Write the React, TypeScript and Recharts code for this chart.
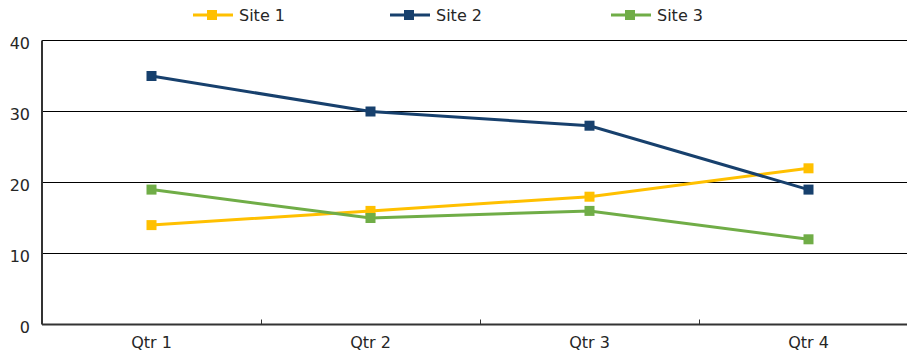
import React from "react";
import { LineChart, Line, XAxis, YAxis, CartesianGrid } from "recharts";

// Quarterly values per site.
const quarters = ["Qtr 1", "Qtr 2", "Qtr 3", "Qtr 4"];
const site1 = [14, 16, 18, 22];
const site2 = [35, 30, 28, 19];
const site3 = [19, 15, 16, 12];
const yTicks = [0, 10, 20, 30, 40];

const series = [
  { key: "site1", name: "Site 1", color: "#FFC000", values: site1 },
  { key: "site2", name: "Site 2", color: "#17406D", values: site2 },
  { key: "site3", name: "Site 3", color: "#70AD47", values: site3 },
];

// legend item left edges (line start), matching the reference layout
const legendLeft = [193, 390, 611];

// numeric x so labels sit at band centres and tick marks at band edges
const data = quarters.map((q, i) => ({
  x: i + 0.5,
  site1: site1[i],
  site2: site2[i],
  site3: site3[i],
}));
const xTicks = [0.5, 1, 1.5, 2, 2.5, 3, 3.5];

const FONT = "'DejaVu Sans', Verdana, sans-serif";
const TEXT = "#262626";

function XTick(props: any) {
  const { x, y, payload } = props;
  const v = payload.value as number;
  if (Number.isInteger(v)) {
    return <line x1={Math.round(x) + 0.5} x2={Math.round(x) + 0.5} y1={y} y2={y - 5} stroke="#333" strokeWidth={1} />;
  }
  return (
    <text x={x} y={y + 12} dy="0.71em" textAnchor="middle" fill={TEXT} fontSize={16} fontFamily={FONT}>
      {quarters[Math.floor(v)]}
    </text>
  );
}

function YTick(props: any) {
  const { x, y, payload } = props;
  return (
    <text x={x} y={y} dy={8} textAnchor="end" fill={TEXT} fontSize={16} fontFamily={FONT}>
      {payload.value}
    </text>
  );
}

function squareDot(color: string) {
  return (p: any) => (
    <rect key={`${p.dataKey}-${p.index}`} x={p.cx - 5} y={p.cy - 5} width={10} height={10} fill={color} />
  );
}

export default function App() {
  return (
    <div
      style={{
        position: "fixed",
        left: 0,
        top: 0,
        width: 907,
        height: 355,
        overflow: "hidden",
        background: "#fff",
      }}
    >
      {series.map((s, i) => (
        <div
          key={s.key}
          style={{
            position: "absolute",
            left: legendLeft[i],
            top: 4,
            height: 22,
            display: "flex",
            alignItems: "center",
            fontFamily: FONT,
            fontSize: 16,
            color: TEXT,
          }}
        >
          <svg width={40} height={12} style={{ marginRight: 6 }}>
            <line x1={0} x2={40} y1={6} y2={6} stroke={s.color} strokeWidth={3} />
            <rect x={14} y={1} width={10} height={10} fill={s.color} />
          </svg>
          {s.name}
        </div>
      ))}
      <LineChart width={918} height={355} data={data} margin={{ top: 40.5, right: 0, bottom: 0, left: 0 }}>
        <CartesianGrid vertical={false} stroke="#000" strokeWidth={1} />
        <XAxis
          dataKey="x"
          type="number"
          domain={[0, 4]}
          ticks={xTicks}
          interval={0}
          height={30.5}
          tickLine={false}
          tickSize={0}
          tickMargin={0}
          axisLine={{ stroke: "#333", strokeWidth: 2 }}
          tick={<XTick />}
        />
        <YAxis
          domain={[0, 40]}
          ticks={yTicks}
          width={42}
          tickLine={false}
          tickSize={0}
          tickMargin={12}
          axisLine={{ stroke: "#333", strokeWidth: 2 }}
          tick={<YTick />}
        />
        {series.map((s) => (
          <Line
            key={s.key}
            dataKey={s.key}
            name={s.name}
            type="linear"
            stroke={s.color}
            strokeWidth={3}
            dot={squareDot(s.color)}
            activeDot={false}
            isAnimationActive={false}
          />
        ))}
      </LineChart>
    </div>
  );
}
